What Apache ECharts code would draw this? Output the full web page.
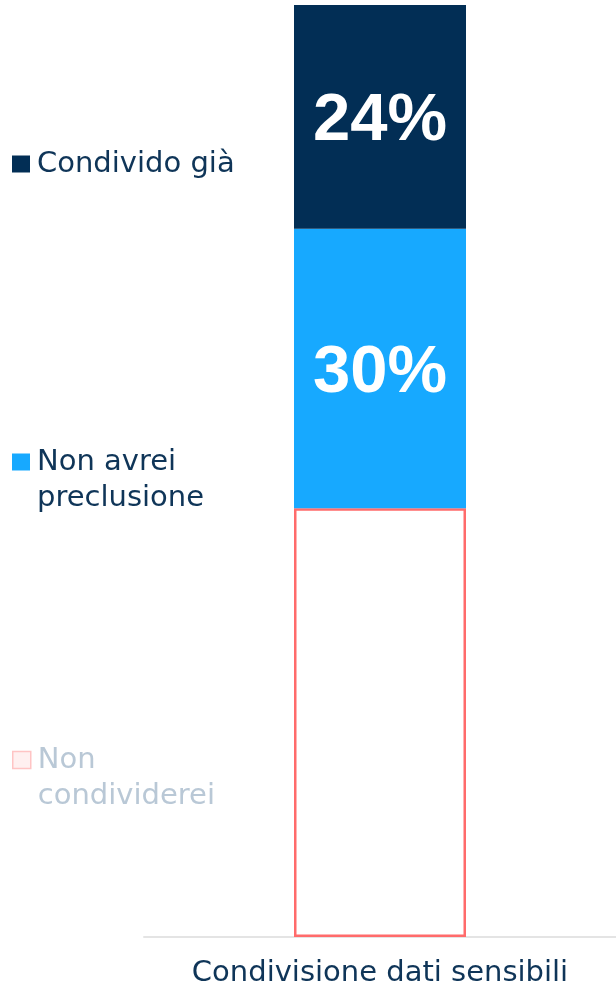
<!DOCTYPE html>
<html>
<head>
<meta charset="utf-8">
<script src="https://cdn.jsdelivr.net/npm/echarts@6/dist/echarts.min.js"></script>
<style>
html,body{margin:0;padding:0;background:#fff;}
#c{width:616px;height:991px;}
</style>
</head>
<body>
<div id="c"></div>
<script>
const categories = ['Condivisione dati sensibili'];
const seriesNames = ['Non condividerei', 'Non avrei preclusione', 'Condivido già'];
const legendLabels = ['\nNon\ncondividerei', '\nNon avrei\npreclusione', 'Condivido già'];
const valNonCondividerei = [46];
const valNonAvrei = [30];
const valCondivido = [24];

const textColor = '#0f3558';
const legendFont = 'DejaVu Sans';

const chart = echarts.init(document.getElementById('c'));

function mkLegend(name, top, opts) {
  return Object.assign({
    left: 12,
    top: top,
    padding: 0,
    itemWidth: 18,
    itemHeight: 17,
    icon: 'rect',
    selectedMode: false,
    formatter: function (n) { return legendLabels[seriesNames.indexOf(n)]; },
    textStyle: { fontFamily: legendFont, fontSize: 29, color: textColor, lineHeight: 36, padding: [0, 0, 0, 2] },
    data: [name]
  }, opts || {});
}

const option = {
  animation: false,
  grid: { left: 144, right: 0, top: 5, bottom: 54, containLabel: false },
  legend: [
    mkLegend('Condivido già', 146),
    mkLegend('Non avrei preclusione', 408),
    mkLegend('Non condividerei', 706, {
      data: [{ name: 'Non condividerei', itemStyle: { color: '#fff0f0', borderColor: '#ffc4c4', borderWidth: 1.5 } }],
      textStyle: { fontFamily: legendFont, fontSize: 29, color: '#b9c8d6', lineHeight: 36, padding: [0, 0, 0, 2] }
    })
  ],
  xAxis: {
    type: 'category',
    data: categories,
    axisLine: { show: true, lineStyle: { color: '#e4e4e4', width: 2 } },
    axisTick: { show: false },
    axisLabel: { fontFamily: legendFont, fontSize: 29, color: textColor, margin: 22 }
  },
  yAxis: {
    type: 'value',
    min: 0,
    max: 100,
    show: false,
    splitLine: { show: false }
  },
  series: [
    {
      name: 'Non condividerei',
      type: 'bar',
      stack: 'total',
      barWidth: 172,
      data: valNonCondividerei,
      itemStyle: { color: '#ffffff', borderColor: '#ff6b6b', borderWidth: 2.5 },
      label: { show: false }
    },
    {
      name: 'Non avrei preclusione',
      type: 'bar',
      stack: 'total',
      barWidth: 172,
      data: valNonAvrei,
      itemStyle: { color: '#17a9ff' },
      label: {
        show: true, position: 'inside', formatter: '{c}%', offset: [0, 5],
        color: '#ffffff', fontFamily: 'Liberation Sans', fontWeight: 'bold', fontSize: 67
      }
    },
    {
      name: 'Condivido già',
      type: 'bar',
      stack: 'total',
      barWidth: 172,
      data: valCondivido,
      itemStyle: { color: '#022e55' },
      label: {
        show: true, position: 'inside', formatter: '{c}%', offset: [0, 5],
        color: '#ffffff', fontFamily: 'Liberation Sans', fontWeight: 'bold', fontSize: 67
      }
    }
  ]
};
chart.setOption(option);
</script>
</body>
</html>
